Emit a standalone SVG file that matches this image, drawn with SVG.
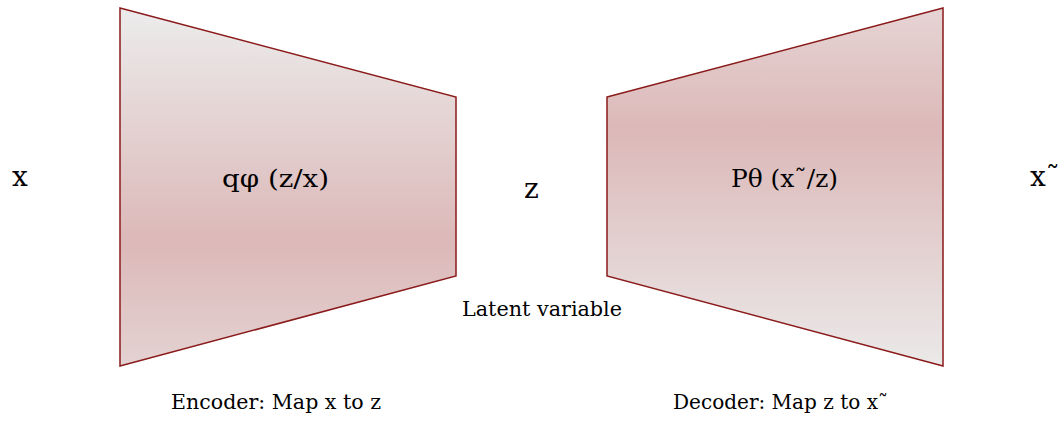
<svg xmlns="http://www.w3.org/2000/svg" width="1061" height="421" viewBox="0 0 1061 421">
  <style>
    .shape { stroke: #8b1a1a; stroke-width: 1.5; stroke-linejoin: miter; }
    .t { font-family: "DejaVu Serif", "Liberation Serif", serif; fill: #000; }
    .big { font-size: 28px; }
    .mid { font-size: 25px; }
    .small { font-size: 20.5px; }
  </style>
  <defs>
    <linearGradient id="gEnc" gradientUnits="userSpaceOnUse" x1="0" y1="8" x2="0" y2="366">
      <stop offset="0" stop-color="#ececec"/>
      <stop offset="0.65" stop-color="#dcb8b8"/>
      <stop offset="1" stop-color="#e4d2d2"/>
    </linearGradient>
    <linearGradient id="gDec" gradientUnits="userSpaceOnUse" x1="0" y1="8" x2="0" y2="366">
      <stop offset="0" stop-color="#e6d4d4"/>
      <stop offset="0.34" stop-color="#dcb8b8"/>
      <stop offset="1" stop-color="#ebe9e9"/>
    </linearGradient>
  </defs>
  <rect width="1061" height="421" fill="#ffffff"/>
  <g id="input">
    <text class="t big" x="12" y="186">x</text>
  </g>
  <g id="encoder">
    <polygon class="shape" fill="url(#gEnc)" points="120,8 456,97 456,276 120,366"/>
    <text class="t mid" x="222" y="187" textLength="107" lengthAdjust="spacingAndGlyphs">qφ (z/x)</text>
    <text class="t small" x="171" y="409" textLength="210" lengthAdjust="spacingAndGlyphs">Encoder: Map x to z</text>
  </g>
  <g id="latent">
    <text class="t big" x="524" y="198">z</text>
    <text class="t small" x="462" y="316" textLength="160" lengthAdjust="spacingAndGlyphs">Latent variable</text>
  </g>
  <g id="decoder">
    <polygon class="shape" fill="url(#gDec)" points="607,97 943,8 943,366 607,276"/>
    <text class="t mid" x="731" y="187" textLength="107" lengthAdjust="spacingAndGlyphs">Pθ (x˜/z)</text>
    <text class="t small" x="673" y="409" textLength="215" lengthAdjust="spacingAndGlyphs">Decoder: Map z to x˜</text>
  </g>
  <g id="output">
    <text class="t big" x="1030" y="186">x˜</text>
  </g>
  <g id="connectors"></g>
</svg>
